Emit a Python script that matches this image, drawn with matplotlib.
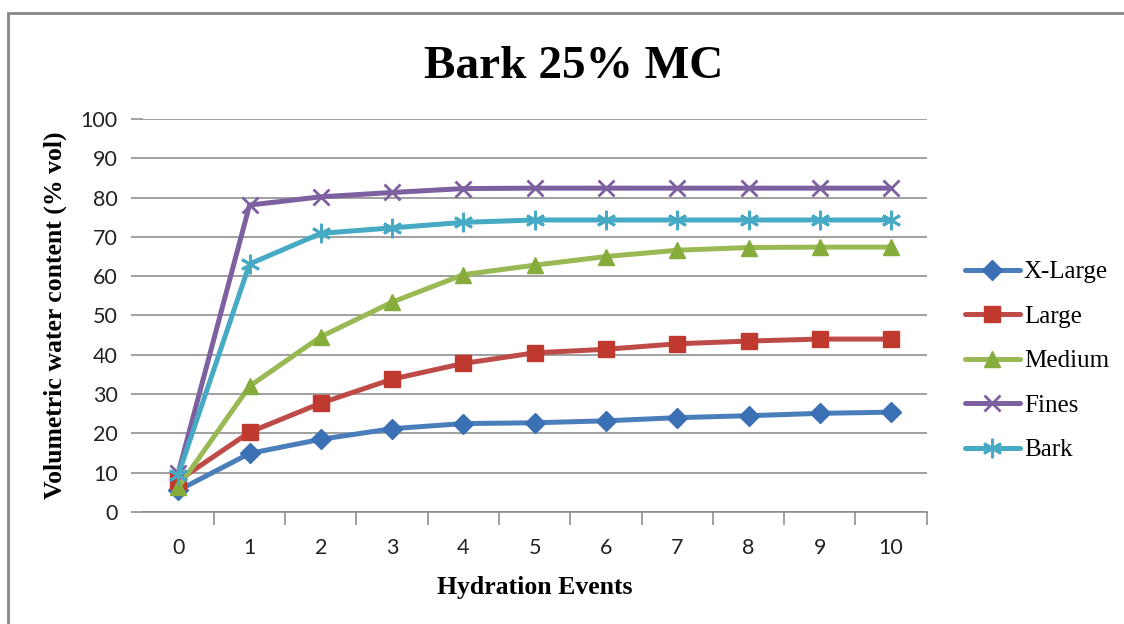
import numpy as np
import matplotlib
matplotlib.use("Agg")
import matplotlib.pyplot as plt
from matplotlib.patches import Rectangle

# data
events = [0, 1, 2, 3, 4, 5, 6, 7, 8, 9, 10]
x_large = [5.5, 14.9, 18.5, 21.2, 22.5, 22.7, 23.2, 24.0, 24.5, 25.1, 25.4]
large = [8.0, 20.3, 27.7, 33.8, 37.8, 40.5, 41.4, 42.8, 43.5, 44.0, 44.0]
medium = [6.3, 32.0, 44.6, 53.4, 60.4, 62.8, 65.0, 66.6, 67.3, 67.4, 67.4]
fines = [10.0, 78.1, 80.2, 81.3, 82.3, 82.4, 82.4, 82.4, 82.4, 82.4, 82.4]
bark = [9.5, 63.1, 70.9, 72.3, 73.7, 74.3, 74.3, 74.3, 74.3, 74.3, 74.3]

names = ["X-Large", "Large", "Medium", "Fines", "Bark"]
series = [x_large, large, medium, fines, bark]
line_cols = ["#4A7EBB", "#BE4B48", "#98B954", "#7D60A0", "#46AAC5"]
mark_cols = ["#3B70B5", "#C0392F", "#86AC3C", "#7D60A0", "#46AAC5"]
markers = ["D", "s", "^", "x", (6, 2, 0)]
msizes = [10, 11, 12, 12, 14]

serif = ["Liberation Serif", "DejaVu Serif"]
sans = ["Lato", "DejaVu Sans"]

fig = plt.figure(figsize=(11.24, 6.24), dpi=100)
# outer chart border (like the Excel chart area)
fig.patches.append(Rectangle((8 / 1124, -0.1), 1.2, 1.1 - 13 / 624,
                             transform=fig.transFigure, fill=False,
                             edgecolor="#888888", linewidth=2))

ax = fig.add_axes([0.1269, 0.1795, 0.6976, 0.6298])

for vals, name, lc, mc, m, ms in zip(series, names, line_cols, mark_cols, markers, msizes):
    thin = m == "x" or isinstance(m, tuple)
    ax.plot(events, vals, color=lc, linewidth=3.6, marker=m, markersize=ms,
            markerfacecolor=mc, markeredgecolor=mc, markeredgewidth=2 if thin else 1,
            label=name, solid_capstyle="round", zorder=3)

ax.set_xlim(-0.5, 10.5)
ax.set_ylim(0, 100)
ax.set_yticks(np.arange(0, 101, 10))
ax.set_xticks(events)
ax.set_xticks(np.arange(0.5, 10.6, 1), minor=True)
ax.yaxis.grid(True, color="#868686", linewidth=1.1)
ax.set_axisbelow(True)

for s in ["top", "right", "left"]:
    ax.spines[s].set_visible(False)
ax.spines["bottom"].set_color("#868686")
ax.spines["bottom"].set_linewidth(1.1)

ax.tick_params(axis="y", length=9, color="#868686", width=1.1, pad=9, labelsize=15.5)
ax.tick_params(axis="x", which="major", length=0, pad=19, labelsize=15.5)
ax.tick_params(axis="x", which="minor", length=9, color="#868686", width=1.1)
for lab in ax.get_xticklabels() + ax.get_yticklabels():
    lab.set_family(sans)
    lab.set_color("#222222")

ax.set_xlabel("Hydration Events", family=serif, fontweight="bold", fontsize=18.5, labelpad=13)
ax.set_ylabel("Volumetric water content (% vol)", family=serif, fontweight="bold",
              fontsize=18.5, labelpad=10)
fig.text(0.51, 0.892, "Bark 25% MC", family=serif, fontweight="bold", fontsize=34,
         ha="center", va="center")

leg = ax.legend(loc="center left", bbox_to_anchor=(1.0485, 0.384), frameon=False,
                prop={"family": serif, "size": 18}, handlelength=2.2, handletextpad=0.16,
                labelspacing=0.88, borderaxespad=0, borderpad=0)

fig.savefig("out.png", dpi=100)
